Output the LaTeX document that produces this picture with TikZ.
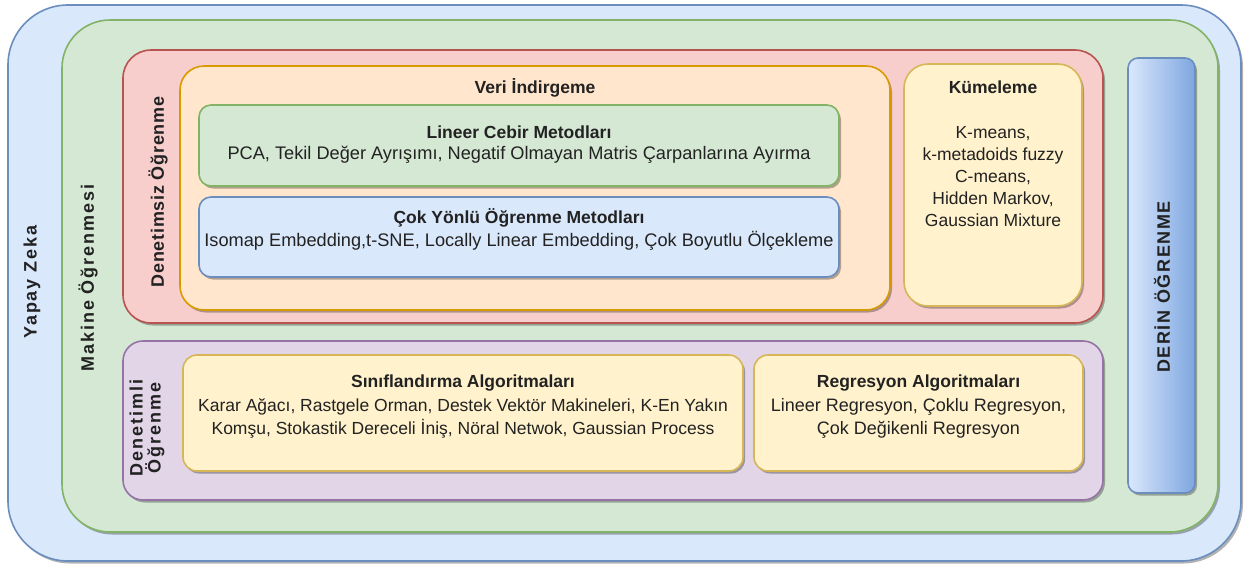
\documentclass[tikz,border=0pt]{standalone}
\usepackage{fontspec}
\setmainfont{Liberation Sans}
\usetikzlibrary{shadows}
\definecolor{blueF}{HTML}{DAE8FC}\definecolor{blueS}{HTML}{6C8EBF}
\definecolor{greenF}{HTML}{D5E8D4}\definecolor{greenS}{HTML}{82B366}
\definecolor{redF}{HTML}{F8CECC}\definecolor{redS}{HTML}{B85450}
\definecolor{orangeF}{HTML}{FFE6CC}\definecolor{orangeS}{HTML}{D79B00}
\definecolor{yellowF}{HTML}{FFF2CC}\definecolor{yellowS}{HTML}{D6B656}
\definecolor{purpleF}{HTML}{E1D5E7}\definecolor{purpleS}{HTML}{9673A6}
\definecolor{deepB}{HTML}{7EA6E0}
\definecolor{txt}{HTML}{222222}
\begin{document}
\begin{tikzpicture}[x=1pt,y=-1pt,
  box/.style={rectangle, line width=1.6pt, inner sep=0pt,
    drop shadow={shadow xshift=2pt, shadow yshift=-2.5pt, opacity=0.3, fill=black}},
  bluebox/.style={box, fill=blueF, draw=blueS},
  greenbox/.style={box, fill=greenF, draw=greenS},
  redbox/.style={box, fill=redF, draw=redS},
  orangebox/.style={box, fill=orangeF, draw=orangeS},
  yellowbox/.style={box, fill=yellowF, draw=yellowS},
  purplebox/.style={box, fill=purpleF, draw=purpleS},
  ttl/.style={font=\fontsize{17.5}{20}\selectfont\bfseries, text=txt, inner sep=0pt},
  body/.style={font=\fontsize{17.5}{22.5}\selectfont, text=txt, inner sep=0pt, align=center},
  widebody/.style={font=\fontsize{18.2}{22}\selectfont, text=txt, inner sep=0pt, align=center},
  side/.style={font=\fontsize{18}{19}\selectfont\bfseries\addfontfeature{LetterSpace=11}, text=txt, rotate=90, inner sep=0pt, align=center}
]
\useasboundingbox (0,0) rectangle (1249,566);
\fill[white] (0,0) rectangle (1249,566);

\node[bluebox, rounded corners=60pt, minimum width=1233pt, minimum height=556pt] (yz) at (624.5,283) {};
\node[greenbox, rounded corners=48pt, minimum width=1156pt, minimum height=512pt] (mo) at (640,276) {};
\node[redbox, rounded corners=28pt, minimum width=980pt, minimum height=273pt] (dso) at (613,186.5) {};
\node[orangebox, rounded corners=24pt, minimum width=710pt, minimum height=244pt] (vi) at (535,188) {};
\node[greenbox, rounded corners=12pt, minimum width=640pt, minimum height=81pt] (lc) at (519,145.5) {};
\node[bluebox, rounded corners=12pt, minimum width=640pt, minimum height=80pt] (cy) at (519,237) {};
\node[yellowbox, rounded corners=24pt, minimum width=178pt, minimum height=242pt] (km) at (993,185) {};
\node[purplebox, rounded corners=20pt, minimum width=980pt, minimum height=159pt] (dlo) at (613,420.5) {};
\node[yellowbox, rounded corners=14pt, minimum width=560pt, minimum height=116pt] (sa) at (463,413) {};
\node[yellowbox, rounded corners=14pt, minimum width=329pt, minimum height=116pt] (ra) at (918.5,413) {};
\node[box, rounded corners=10pt, draw=blueS, left color=blueF, right color=deepB, minimum width=67pt, minimum height=435pt] (do) at (1161.5,275.5) {};

% side labels
\node[side] (yzt) at (32,282) {Yapay Zeka};
\node[side] (mot) at (88,278) {Makine Öğrenmesi};
\node[side, font=\fontsize{18}{19}\selectfont\bfseries\addfontfeature{LetterSpace=4}] (dsot) at (158,192) {Denetimsiz Öğrenme};
\node[side, font=\fontsize{18}{18}\selectfont\bfseries\addfontfeature{LetterSpace=11}] (dlot) at (147,428) {Denetimli\\Öğrenme};
\node[side, font=\fontsize{18}{19}\selectfont\bfseries\addfontfeature{LetterSpace=9}] (dot) at (1162,287) {DERİN ÖĞRENME};

% contents
\node[ttl] (vit) at (535,88) {Veri İndirgeme};
\node[ttl] (lct) at (519,132) {Lineer Cebir Metodları};
\node[widebody] (lcb) at (519,155) {PCA, Tekil Değer Ayrışımı, Negatif Olmayan Matris Çarpanlarına Ayırma};
\node[ttl] (cyt) at (519,218) {Çok Yönlü Öğrenme Metodları};
\node[widebody] (cyb) at (519,241) {Isomap Embedding,t-SNE, Locally Linear Embedding, Çok Boyutlu Ölçekleme};
\node[ttl] (kmt) at (993,87) {Kümeleme};
\node[body, font=\fontsize{17.5}{22}\selectfont] (kmb) at (993,177) {K-means,\\k-metadoids fuzzy\\C-means,\\Hidden Markov,\\Gaussian Mixture};
\node[ttl] (sat) at (463,383) {Sınıflandırma Algoritmaları};
\node[body] (sab) at (463,418.5) {Karar Ağacı, Rastgele Orman, Destek Vektör Makineleri, K-En Yakın\\Komşu, Stokastik Dereceli İniş, Nöral Netwok, Gaussian Process};
\node[ttl] (rat) at (918.5,383) {Regresyon Algoritmaları};
\node[body, font=\fontsize{18}{22.5}\selectfont] (rab) at (918.5,418.5) {Lineer Regresyon, Çoklu Regresyon,\\Çok Değikenli Regresyon};
\end{tikzpicture}
\end{document}
